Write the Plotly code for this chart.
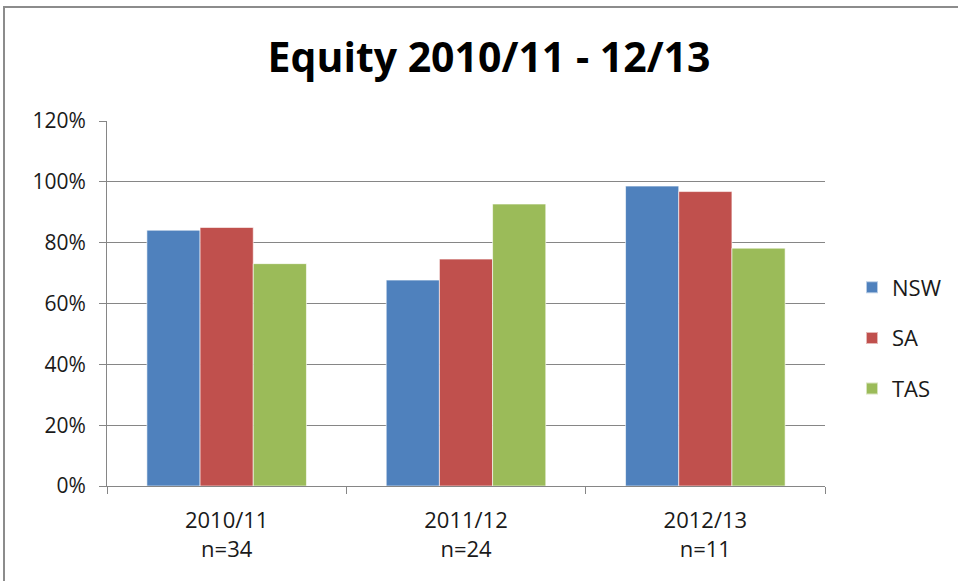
import plotly.graph_objects as go

categories = ["2010/11<br>n=34", "2011/12<br>n=24", "2012/13<br>n=11"]
nsw = [84.1, 67.7, 98.6]
sa = [85.0, 74.6, 96.8]
tas = [73.1, 92.7, 78.2]
series = [("NSW", nsw, "#4F81BD"), ("SA", sa, "#C0504D"), ("TAS", tas, "#9BBB59")]
y_ticks = [0, 20, 40, 60, 80, 100, 120]
y_labels = [f"{v}%" for v in y_ticks]

FONT = "Open Sans"

fig = go.Figure()
for name, vals, color in series:
    fig.add_trace(go.Bar(
        x=categories, y=vals, name=name, legendgroup=name,
        marker=dict(color=color, line=dict(color="rgba(255,255,255,0.6)", width=1)),
    ))

W, H = 958, 581
L, R, T, B = 107, 133, 121, 95
pw, ph = W - L - R, H - T - B

fig.update_layout(
    width=W, height=H,
    margin=dict(l=L, r=R, t=T, b=B, autoexpand=False),
    paper_bgcolor="white", plot_bgcolor="white",
    barmode="group", bargap=1/3, bargroupgap=0,
    font=dict(family=FONT, size=20, color="#1a1a1a"),
    title=dict(text="<b>Equity 2010/11 - 12/13</b>", x=489 / W, xref="container",
               xanchor="center", y=1 - 58 / H, yanchor="middle",
               font=dict(family=FONT, size=41, color="#000000")),
    legend=dict(xref="container", yref="container", x=852 / W, xanchor="left",
                y=1 - 338 / H, yanchor="middle",
                font=dict(family=FONT, size=22), tracegroupgap=19,
                itemsizing="constant", bgcolor="rgba(0,0,0,0)"),
    showlegend=True,
)
fig.update_xaxes(
    showline=True, linecolor="#868686", linewidth=1,
    ticks="outside", tickson="boundaries", ticklen=7, tickcolor="#868686",
    showgrid=False, tickfont=dict(family=FONT, size=22), ticklabelstandoff=15,
)
fig.update_yaxes(
    range=[0, 120], tickvals=y_ticks, ticktext=y_labels,
    showline=True, linecolor="#868686", linewidth=1,
    ticks="outside", ticklen=7, tickcolor="#868686",
    showgrid=True, gridcolor="#868686", gridwidth=1, zeroline=False,
    tickfont=dict(family=FONT, size=21), ticklabelstandoff=9,
)
fig.add_shape(type="rect", xref="paper", yref="paper",
              x0=(4 - L) / pw, x1=(W + 20 - L) / pw,
              y0=-0.5, y1=(H - B - 7) / ph,
              line=dict(color="#8c8c8c", width=2), fillcolor="rgba(0,0,0,0)", layer="below")

fig.write_html("out.html", config={"displayModeBar": False},
               post_script="document.body.style.margin='0px';")
